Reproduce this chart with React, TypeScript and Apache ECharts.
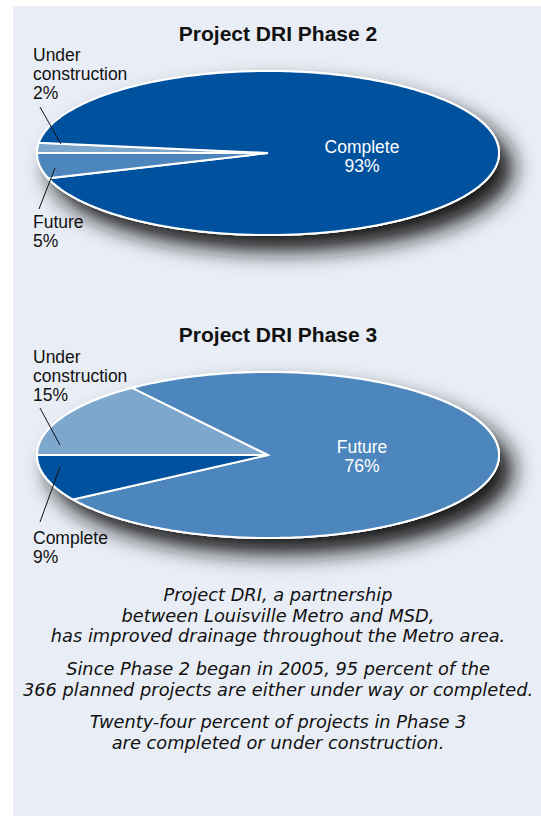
import React, { useEffect, useRef } from "react";
import * as echarts from "echarts";

// ---- data ----
const phase2Title = "Project DRI Phase 2";
const phase2Names = ["Under construction", "Complete", "Future"];
const phase2Values = [2, 93, 5];

const phase3Title = "Project DRI Phase 3";
const phase3Names = ["Under construction", "Future", "Complete"];
const phase3Values = [15, 76, 9];

const captionParagraphs = [
  "Project DRI, a partnership\nbetween Louisville Metro and MSD,\nhas improved drainage throughout the Metro area.",
  "Since Phase 2 began in 2005, 95 percent of the\n366 planned projects are either under way or completed.",
  "Twenty-four percent of projects in Phase 3\nare completed or under construction.",
];

// ---- styles / layout ----
const sliceColors: Record<string, string> = {
  Complete: "#00519e",
  Future: "#4d86bc",
  "Under construction": "#7ea7ce",
};
const PANEL_BG = "#e9eef6";
const LABEL_FONT = "Liberation Sans, Arial, sans-serif";
const CAPTION_FONT = "DejaVu Sans, Liberation Sans, sans-serif";

const pie2Geom = { cx: 268, cy: 153, rx: 231, ry: 82, titleY: 33 };
const pie3Geom = { cx: 268, cy: 455, rx: 231, ry: 83, titleY: 334 };

type LabelPos =
  | { mode: "inside"; x: number; y: number }
  | { mode: "outside"; x: number; y: number; line: number[] };

const pie2Labels: LabelPos[] = [
  { mode: "outside", x: 33, y: 74, line: [40, 107, 61, 144] },
  { mode: "inside", x: 362, y: 156.5 },
  { mode: "outside", x: 33, y: 231.5, line: [55, 168, 39, 209] },
];
const pie3Labels: LabelPos[] = [
  { mode: "outside", x: 33, y: 376, line: [40, 408, 60, 445] },
  { mode: "inside", x: 362, y: 456.5 },
  { mode: "outside", x: 33, y: 547, line: [60, 467, 40, 522] },
];

function labelText(name: string, value: number) {
  return name.replace(" ", "\n") + "\n" + value + "%";
}

function ellipsePoints(g: any, a0: number, a1: number, withCenter: boolean) {
  const pts: number[][] = [];
  if (withCenter) pts.push([g.cx, g.cy]);
  const n = Math.max(4, Math.ceil(Math.abs(a1 - a0) / 1));
  for (let k = 0; k <= n; k++) {
    const phi = ((a0 + ((a1 - a0) * k) / n) * Math.PI) / 180;
    pts.push([g.cx + g.rx * Math.cos(phi), g.cy - g.ry * Math.sin(phi)]);
  }
  return pts;
}

function makeSeries(names: string[], values: number[], g: any) {
  const total = values.reduce((a, b) => a + b, 0);
  const cum: number[] = [];
  let acc = 0;
  values.forEach((v) => {
    cum.push(acc);
    acc += v;
  });
  return {
    type: "custom",
    coordinateSystem: "none",
    silent: true,
    z: 2,
    data: values.map((v, i) => ({ name: names[i], value: [v] })),
    renderItem: (params: any, api: any) => {
      const i = params.dataIndex;
      const v = api.value(0);
      const a0 = 180 - (360 * cum[i]) / total;
      const a1 = a0 - (360 * v) / total;
      const children: any[] = [];
      if (i === 0) {
        children.push({
          type: "polygon",
          shape: { points: ellipsePoints(g, 0, 360, false) },
          style: {
            fill: "#ffffff",
            stroke: "#ffffff",
            lineWidth: 2,
            shadowBlur: 22,
            shadowOffsetX: 13,
            shadowOffsetY: 15,
            shadowColor: "rgba(25,25,25,1)",
          },
        });
      }
      children.push({
        type: "polygon",
        shape: { points: ellipsePoints(g, a0, a1, true) },
        style: {
          fill: sliceColors[names[i]],
          stroke: "#ffffff",
          lineWidth: 2,
          lineJoin: "miter",
        },
      });
      return { type: "group", children };
    },
  };
}

function makeGraphics(title: string, names: string[], values: number[], g: any, labels: LabelPos[]) {
  const els: any[] = [];
  els.push({
    type: "text",
    x: 278,
    y: g.titleY,
    z: 10,
    style: {
      text: title,
      fill: "#111111",
      fontFamily: LABEL_FONT,
      fontWeight: "bold",
      fontSize: 21,
      align: "center",
      verticalAlign: "middle",
      textAlign: "center",
      textVerticalAlign: "middle",
    },
  });
  labels.forEach((lp, i) => {
    const inside = lp.mode === "inside";
    els.push({
      type: "text",
      x: lp.x,
      y: lp.y,
      z: 10,
      style: {
        text: labelText(names[i], values[i]),
        fill: inside ? "#ffffff" : "#111111",
        fontFamily: LABEL_FONT,
        fontSize: 17.5,
        lineHeight: 19,
        align: inside ? "center" : "left",
        verticalAlign: "middle",
        textAlign: inside ? "center" : "left",
        textVerticalAlign: "middle",
      },
    });
    if (lp.mode === "outside") {
      els.push({
        type: "line",
        z: 10,
        shape: { x1: lp.line[0], y1: lp.line[1], x2: lp.line[2], y2: lp.line[3] },
        style: { stroke: "#111111", lineWidth: 1 },
      });
    }
  });
  return els;
}

export default function App() {
  const ref = useRef<HTMLDivElement>(null);
  useEffect(() => {
    if (!ref.current) return;
    const chart = echarts.init(ref.current, null, { renderer: "svg" });
    const captionY = [615, 679, 732];
    const graphic: any[] = [
      {
        type: "rect",
        z: 0,
        shape: { x: 13, y: 6, width: 528, height: 810 },
        style: { fill: PANEL_BG },
      },
      ...makeGraphics(phase2Title, phase2Names, phase2Values, pie2Geom, pie2Labels),
      ...makeGraphics(phase3Title, phase3Names, phase3Values, pie3Geom, pie3Labels),
      ...captionParagraphs.map((t, i) => ({
        type: "text",
        x: 278,
        y: captionY[i],
        z: 10,
        style: {
          text: t,
          fill: "#111111",
          fontFamily: CAPTION_FONT,
          fontStyle: "italic",
          fontWeight: 300,
          fontSize: 17.8,
          lineHeight: 20.5,
          align: "center",
          verticalAlign: "middle",
          textAlign: "center",
          textVerticalAlign: "middle",
        },
      })),
    ];
    chart.setOption({
      animation: false,
      backgroundColor: "#ffffff",
      graphic,
      series: [
        makeSeries(phase2Names, phase2Values, pie2Geom),
        makeSeries(phase3Names, phase3Values, pie3Geom),
      ],
    });
    return () => chart.dispose();
  }, []);
  return (
    <div
      ref={ref}
      style={{ position: "absolute", left: 0, top: 0, width: 541, height: 816 }}
    />
  );
}
